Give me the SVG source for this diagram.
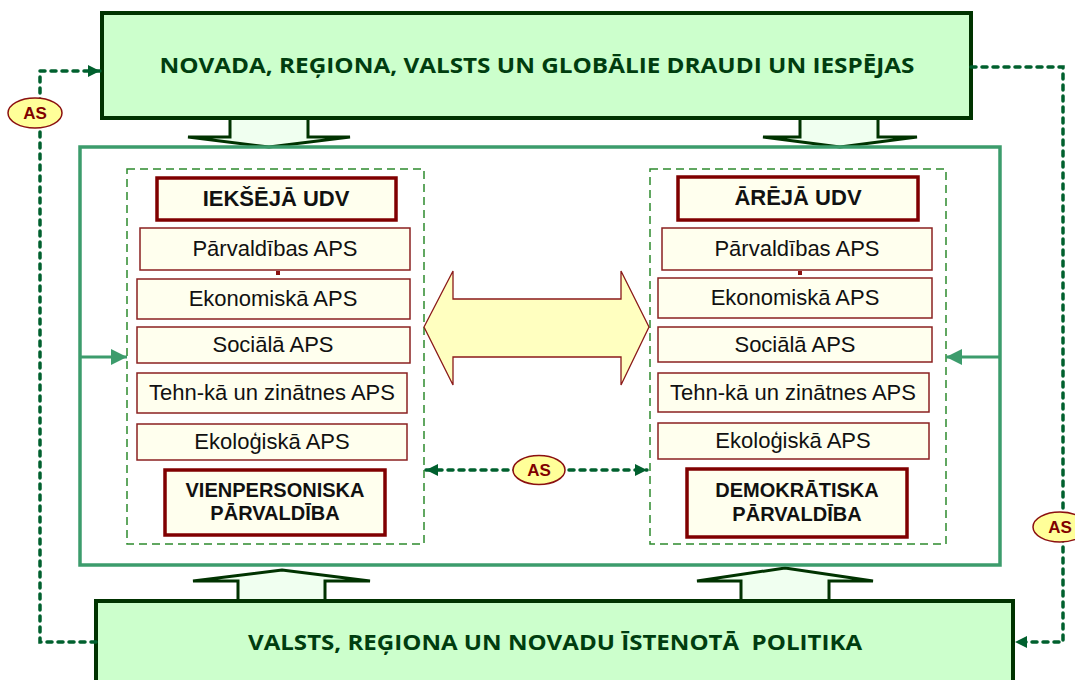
<svg xmlns="http://www.w3.org/2000/svg" width="1075" height="680" viewBox="0 0 1075 680">
<defs>
<style>
.big{fill:#ccffcc;stroke:#003300;stroke-width:4}
.bigt{font-family:"Open Sans","Liberation Sans",sans-serif;font-weight:bold;font-size:21px;fill:#003d0f;text-anchor:middle;white-space:pre}
.blk{fill:#f0fff0;stroke:#003300;stroke-width:3;stroke-linejoin:miter}
.frame{fill:none;stroke:#3c9c6c;stroke-width:3.5}
.dbox{fill:none;stroke:#2e8b2e;stroke-width:1.5;stroke-dasharray:8 5}
.aps{fill:#ffffee;stroke:#8b2020;stroke-width:1.5}
.hdr{fill:#ffffee;stroke:#800000;stroke-width:3.5}
.apst{font-family:"Liberation Sans",Arial,sans-serif;font-size:22px;fill:#111;text-anchor:middle}
.hdrt{font-family:"Liberation Sans",Arial,sans-serif;font-size:22px;font-weight:bold;fill:#111;text-anchor:middle}
.hdrt2{font-family:"Liberation Sans",Arial,sans-serif;font-size:20px;font-weight:bold;fill:#111;text-anchor:middle}
.dash{fill:none;stroke:#00602e;stroke-width:3.5;stroke-dasharray:5 6;stroke-linecap:round}
.gline{fill:none;stroke:#3c9c6c;stroke-width:3}
.as{fill:#ffff99;stroke:#8b1010;stroke-width:1.5}
.ast{font-family:"Liberation Sans",Arial,sans-serif;font-size:17px;font-weight:bold;fill:#800000;text-anchor:middle}
</style>
<marker id="ah" viewBox="0 0 10 10" refX="10" refY="5" markerWidth="14" markerHeight="12" markerUnits="userSpaceOnUse" orient="auto-start-reverse">
<path d="M0,0 L10,5 L0,10 Z" fill="#00602e"/>
</marker>
<marker id="gh" viewBox="0 0 10 10" refX="10" refY="5" markerWidth="16" markerHeight="16" markerUnits="userSpaceOnUse" orient="auto">
<path d="M0,0 L10,5 L0,10 Z" fill="#3c9c6c"/>
</marker>
</defs>

<g id="block-arrows">
<polygon class="blk" points="230,116 230,137 188,137 269,147 350,137 308,137 308,116"/>
<polygon class="blk" points="800,116 800,137 763,137 840,147 917,137 878,137 878,116"/>
<polygon class="blk" points="238,603 238,581 193,581 282,570 370,581 325,581 325,603"/>
<polygon class="blk" points="741,603 741,581 697,581 785,568 873,581 829,581 829,603"/>
</g>

<g id="frame">
<rect class="frame" x="80" y="147" width="920" height="418"/>
</g>

<g id="top-node">
<rect class="big" x="102" y="13" width="869" height="105"/>
<text class="bigt" x="537" y="73" textLength="755" lengthAdjust="spacingAndGlyphs">NOVADA, REĢIONA, VALSTS UN GLOBĀLIE DRAUDI UN IESPĒJAS</text>
</g>

<g id="bottom-node">
<rect class="big" x="96" y="601" width="917" height="95"/>
<text class="bigt" x="555" y="650" textLength="614" lengthAdjust="spacingAndGlyphs" xml:space="preserve">VALSTS, REĢIONA UN NOVADU ĪSTENOTĀ  POLITIKA</text>
</g>

<g id="left-group">
<rect class="dbox" x="127" y="169" width="297" height="375"/>
<rect class="hdr" x="157" y="178" width="239" height="42"/>
<text class="hdrt" x="276" y="206">IEKŠĒJĀ UDV</text>
<rect class="aps" x="140" y="228" width="270" height="42"/>
<text class="apst" x="275" y="256">Pārvaldības APS</text>
<rect x="276" y="271" width="4" height="4" fill="#8b1010"/>
<rect class="aps" x="137" y="279" width="273" height="40"/>
<text class="apst" x="273" y="306">Ekonomiskā APS</text>
<rect class="aps" x="137" y="327" width="273" height="36"/>
<text class="apst" x="273" y="352">Sociālā APS</text>
<rect class="aps" x="137" y="373" width="270" height="40"/>
<text class="apst" x="272" y="400">Tehn-kā un zinātnes APS</text>
<rect class="aps" x="137" y="424" width="270" height="36"/>
<text class="apst" x="272" y="449">Ekoloģiskā APS</text>
<rect class="hdr" x="165" y="470" width="220" height="65"/>
<text class="hdrt2" x="275" y="497">VIENPERSONISKA</text>
<text class="hdrt2" x="275" y="520">PĀRVALDĪBA</text>
</g>

<g id="right-group">
<rect class="dbox" x="650" y="169" width="296" height="375"/>
<rect class="hdr" x="678" y="177" width="240" height="43"/>
<text class="hdrt" x="798" y="205">ĀRĒJĀ UDV</text>
<rect class="aps" x="662" y="228" width="270" height="42"/>
<text class="apst" x="797" y="256">Pārvaldības APS</text>
<rect x="798" y="271" width="4" height="4" fill="#8b1010"/>
<rect class="aps" x="658" y="278" width="274" height="40"/>
<text class="apst" x="795" y="305">Ekonomiskā APS</text>
<rect class="aps" x="658" y="327" width="274" height="35"/>
<text class="apst" x="795" y="352">Sociālā APS</text>
<rect class="aps" x="658" y="373" width="271" height="39"/>
<text class="apst" x="793" y="400">Tehn-kā un zinātnes APS</text>
<rect class="aps" x="658" y="423" width="271" height="36"/>
<text class="apst" x="793" y="448">Ekoloģiskā APS</text>
<rect class="hdr" x="687" y="469" width="220" height="68"/>
<text class="hdrt2" x="797" y="497">DEMOKRĀTISKA</text>
<text class="hdrt2" x="797" y="521">PĀRVALDĪBA</text>
</g>

<g id="double-arrow">
<polygon points="424,327 453,271 453,299 621,299 621,271 649,327 621,385 621,357 453,357 453,385" fill="#ffffc0" stroke="#8b1a1a" stroke-width="1.3"/>
</g>

<g id="connectors">
<path class="dash" d="M96,642 H40 V71 H100" marker-end="url(#ah)"/>
<path class="dash" d="M971,67 H1063 V642 H1015" marker-end="url(#ah)"/>
<path class="dash" d="M426,470 H647" marker-start="url(#ah)" marker-end="url(#ah)"/>
<path class="gline" d="M80,357 H127" marker-end="url(#gh)"/>
<path class="gline" d="M1000,357 H946" marker-end="url(#gh)"/>
</g>

<g id="as-labels">
<ellipse class="as" cx="35" cy="113" rx="27" ry="15"/>
<text class="ast" x="35" y="119">AS</text>
<ellipse class="as" cx="539" cy="470" rx="26" ry="14.5"/>
<text class="ast" x="539" y="476">AS</text>
<ellipse class="as" cx="1060" cy="527" rx="27" ry="15"/>
<text class="ast" x="1060" y="533">AS</text>
</g>
</svg>
